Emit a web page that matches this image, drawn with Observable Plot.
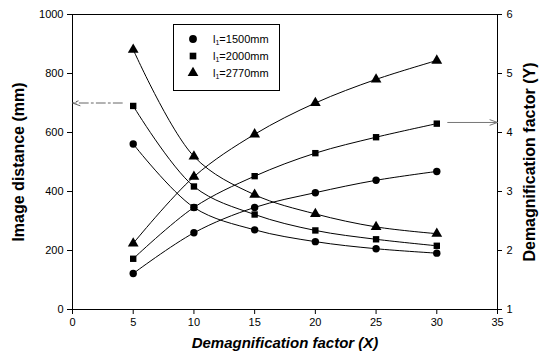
<!DOCTYPE html>
<html>
<head>
<meta charset="utf-8">
<script src="https://cdn.jsdelivr.net/npm/d3@7"></script>
<script src="https://cdn.jsdelivr.net/npm/@observablehq/plot@0.6"></script>
<style>
  html, body { margin: 0; padding: 0; background: #fff; }
  #wrap { position: relative; width: 542px; height: 360px; font-family: "Liberation Sans", Arial, sans-serif; }
  #legend { position: absolute; left: 173px; top: 24px; width: 105px; height: 65px; border: 1px solid #000; background: #fff; font-size: 11px; }
  #legend .row { position: absolute; left: 0; height: 14px; line-height: 14px; }
  #legend .row svg { position: absolute; left: 12px; top: 0; }
  #legend .row span { position: absolute; left: 39px; top: 0; white-space: nowrap; }
  #legend sub { font-size: 7px; vertical-align: -2px; line-height: 0; }
</style>
</head>
<body>
<div id="wrap"></div>
<script>
// ---- data ----
const xValues = [5, 10, 15, 20, 25, 30];
const seriesNames = ["1500", "2000", "2770"];
const seriesSymbols = ["circle", "square", "triangle"];
// Image distance (mm), left axis
const dist1500 = [561, 346, 270, 230, 206, 191];
const dist2000 = [690, 417, 322, 268, 238, 216];
const dist2770 = [881, 519, 389, 324, 280, 257];
// Demagnification factor (Y), right axis
const demag1500 = [1.61, 2.30, 2.73, 2.98, 3.19, 3.34];
const demag2000 = [1.86, 2.73, 3.26, 3.65, 3.92, 4.15];
const demag2770 = [2.12, 3.25, 3.97, 4.50, 4.90, 5.22];
// ticks
const xTicks = [0, 5, 10, 15, 20, 25, 30, 35];
const leftTicks = [0, 200, 400, 600, 800, 1000];
const rightTicks = [1, 2, 3, 4, 5, 6];
// arrow annotations
const leftArrow = {x1: 4.1, x2: 0, y: 700};      // image distance axis
const rightArrow = {x1: 30.9, x2: 35, y: 4.17};  // demagnification axis
// titles
const xTitle = "Demagnification factor (X)";
const yLeftTitle = "Image distance (mm)";
const yRightTitle = "Demagnification factor (Y)";

// right axis (1..6) mapped onto left scale (0..1000)
const toLeft = v => (v - 1) * 200;

const distSeries = [dist1500, dist2000, dist2770];
const demagSeries = [demag1500, demag2000, demag2770];

const rows = [];
seriesNames.forEach((s, i) => {
  xValues.forEach((x, j) => {
    rows.push({series: s, kind: "dist", key: s + "d", x, y: distSeries[i][j]});
    rows.push({series: s, kind: "demag", key: s + "m", x, y: toLeft(demagSeries[i][j])});
  });
});

const marks = [
  Plot.frame({stroke: "#000", strokeWidth: 1}),
  Plot.axisX({ticks: xTicks, tickSize: 5, tickPadding: 4, label: null, fontSize: 11, tickFormat: d => String(d)}),
  Plot.axisY({ticks: leftTicks, anchor: "left", tickSize: 5, tickPadding: 4, label: null, fontSize: 11, tickFormat: d => String(d)}),
  Plot.axisY({ticks: rightTicks.map(toLeft), anchor: "right", tickSize: 4, tickPadding: 5, label: null, fontSize: 11,
              tickFormat: d => String(d / 200 + 1)}),
  Plot.line(rows, {x: "x", y: "y", z: "key", curve: "catmull-rom", stroke: "#000", strokeWidth: 1}),
  Plot.arrow([leftArrow], {x1: "x1", x2: "x2", y1: "y", y2: "y", stroke: "#666", strokeWidth: 1,
              strokeDasharray: "9,3,2,3", headLength: 12, headAngle: 40, insetStart: 0, insetEnd: 0}),
  Plot.arrow([rightArrow], {x1: "x1", x2: "x2", y1: d => toLeft(d.y), y2: d => toLeft(d.y), stroke: "#777", strokeWidth: 1,
              headLength: 12, headAngle: 40, insetStart: 0, insetEnd: 0})
];
seriesNames.forEach((s, i) => {
  marks.push(Plot.dot(rows.filter(r => r.series === s), {
    x: "x", y: "y", symbol: seriesSymbols[i], fill: "#000", stroke: "none",
    r: seriesSymbols[i] === "triangle" ? 4.0 : (seriesSymbols[i] === "square" ? 3.6 : 3.7)
  }));
});
marks.push(
  Plot.text([yLeftTitle], {frameAnchor: "left", textAnchor: "middle", dx: -54, rotate: -90, fontSize: 16, fontWeight: "bold", fill: "#000"}),
  Plot.text([yRightTitle], {frameAnchor: "right", textAnchor: "middle", dx: 32, rotate: -90, fontSize: 16, fontWeight: "bold", fill: "#000", lineWidth: Infinity}),
  Plot.text([xTitle], {frameAnchor: "bottom", textAnchor: "middle", dy: 38, fontSize: 15, fontWeight: "bold", fontStyle: "italic", fill: "#000"})
);

const chart = Plot.plot({
  width: 542,
  height: 360,
  marginLeft: 72,
  marginRight: 45,
  marginTop: 14,
  marginBottom: 51,
  style: {fontFamily: "'Liberation Sans', Arial, sans-serif", fontSize: "11px", color: "#000", background: "#fff", overflow: "visible"},
  x: {domain: [0, 35]},
  y: {domain: [0, 1000]},
  marks
});
const wrap = document.getElementById("wrap");
wrap.appendChild(chart);

// legend
const legend = document.createElement("div");
legend.id = "legend";
const symPaths = {
  circle: d3.symbol(d3.symbolCircle, 48)(),
  square: d3.symbol(d3.symbolSquare, 44)(),
  triangle: d3.symbol(d3.symbolTriangle, 50)()
};
seriesNames.forEach((s, i) => {
  const row = document.createElement("div");
  row.className = "row";
  row.style.top = (7 + i * 17) + "px";
  row.innerHTML = `<svg width="14" height="14"><path transform="translate(7,7)" d="${symPaths[seriesSymbols[i]]}" fill="#000"/></svg>` +
                  `<span>l<sub>1</sub>=${s}mm</span>`;
  legend.appendChild(row);
});
wrap.appendChild(legend);
</script>
</body>
</html>
